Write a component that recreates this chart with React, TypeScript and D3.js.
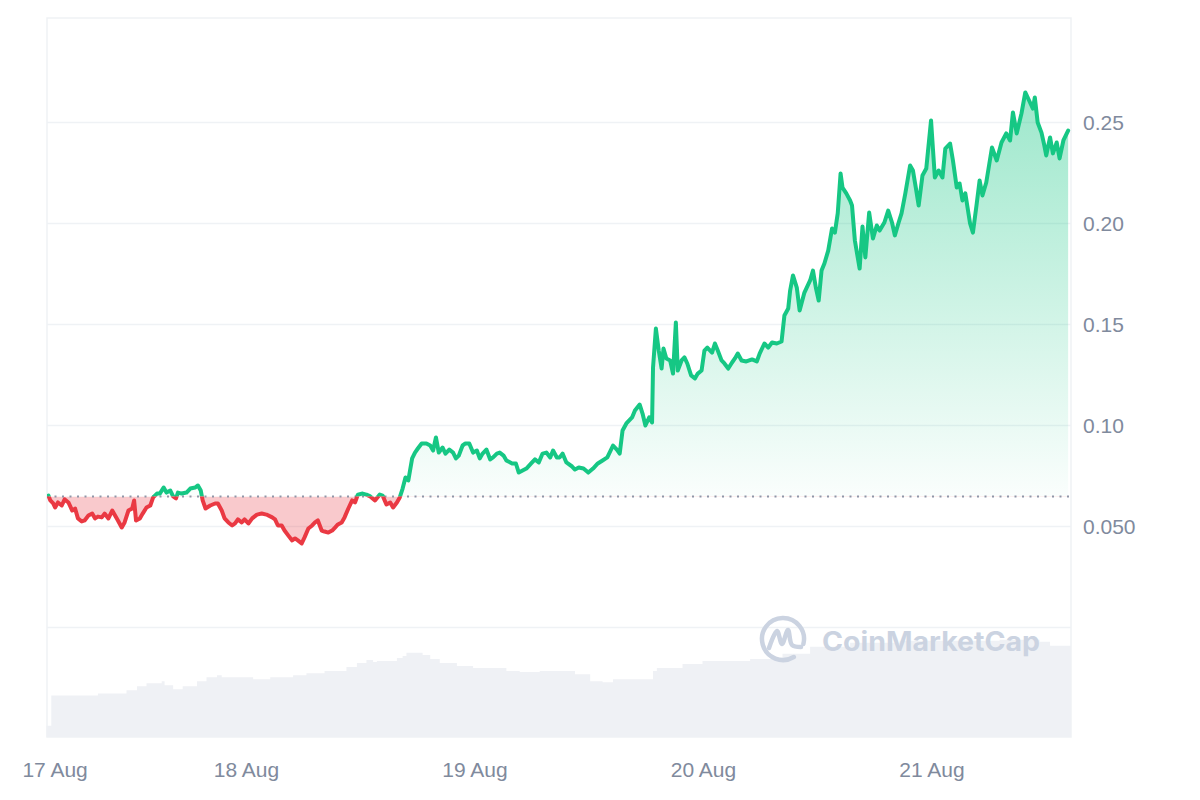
import * as d3 from "d3";
import React, { useEffect, useRef } from "react";

// hours after 17 Aug 00:00 (UTC), price in USD
const pricePoints: [number, number][] = [
  [3.2, 0.0653], [3.4, 0.0629], [3.7, 0.0614], [3.9, 0.0594], [4.2, 0.0619], [4.6, 0.0604], [4.9, 0.0634],
  [5.3, 0.0619], [5.7, 0.0579], [6.0, 0.0589], [6.3, 0.054], [6.7, 0.0525], [7.0, 0.053], [7.4, 0.0554],
  [7.8, 0.0564], [8.1, 0.054], [8.4, 0.0549], [8.8, 0.0545], [9.1, 0.0564], [9.5, 0.054], [9.9, 0.0579],
  [10.2, 0.0554], [10.5, 0.053], [10.9, 0.0495], [11.2, 0.052], [11.6, 0.0579], [12.0, 0.0589], [12.2, 0.0629],
  [12.4, 0.053], [12.8, 0.054], [13.1, 0.0564], [13.5, 0.0594], [13.9, 0.0604], [14.2, 0.0644], [14.6, 0.0663],
  [14.9, 0.0663], [15.3, 0.0693], [15.6, 0.0668], [16.0, 0.0678], [16.3, 0.0649], [16.6, 0.0639], [16.8, 0.0668],
  [17.2, 0.0663], [17.7, 0.0668], [18.1, 0.0688], [18.6, 0.0693], [18.9, 0.0703], [19.2, 0.0678], [19.4, 0.0629],
  [19.7, 0.0589], [20.2, 0.0604], [20.7, 0.0614], [21.0, 0.0614], [21.4, 0.0579], [21.7, 0.054], [22.1, 0.052],
  [22.5, 0.0505], [22.8, 0.0515], [23.1, 0.0535], [23.5, 0.052], [23.8, 0.0535], [24.2, 0.0515], [24.6, 0.054],
  [25.1, 0.0559], [25.6, 0.0564], [26.1, 0.0559], [26.7, 0.0545], [27.0, 0.0535], [27.3, 0.0505], [27.7, 0.0505],
  [28.0, 0.048], [28.4, 0.0455], [28.8, 0.0431], [29.1, 0.0441], [29.4, 0.0431], [29.8, 0.0416], [30.1, 0.0446],
  [30.5, 0.049], [30.9, 0.0505], [31.2, 0.052], [31.5, 0.053], [31.9, 0.048], [32.2, 0.0475], [32.6, 0.047],
  [33.0, 0.048], [33.3, 0.0495], [33.6, 0.051], [34.0, 0.052], [34.3, 0.0545], [34.7, 0.0589], [35.1, 0.0629],
  [35.4, 0.0619], [35.7, 0.0658], [36.2, 0.0663], [36.6, 0.0658], [37.0, 0.0649], [37.5, 0.0629], [38.0, 0.0658],
  [38.3, 0.0653], [38.7, 0.0609], [39.1, 0.0619], [39.4, 0.0594], [39.8, 0.0619], [40.1, 0.0644], [40.4, 0.0688],
  [40.7, 0.0743], [41.0, 0.0728], [41.4, 0.0837], [41.7, 0.0866], [42.0, 0.0886], [42.4, 0.0911], [42.9, 0.0911],
  [43.3, 0.0901], [43.6, 0.0876], [43.9, 0.0941], [44.2, 0.0866], [44.6, 0.0891], [44.9, 0.0861], [45.3, 0.0881],
  [45.7, 0.0866], [46.0, 0.0837], [46.3, 0.0851], [46.7, 0.0901], [47.0, 0.0911], [47.4, 0.0911], [47.8, 0.0866],
  [48.2, 0.0876], [48.5, 0.0837], [48.8, 0.0861], [49.2, 0.0881], [49.6, 0.0832], [49.9, 0.0842], [50.3, 0.0861],
  [50.6, 0.0866], [51.0, 0.0851], [51.3, 0.0827], [51.9, 0.0812], [52.3, 0.0812], [52.6, 0.0767], [53.0, 0.0777],
  [53.4, 0.0787], [53.9, 0.0812], [54.3, 0.0832], [54.7, 0.0817], [55.1, 0.0861], [55.5, 0.0866], [55.9, 0.0842],
  [56.2, 0.0876], [56.6, 0.0842], [56.9, 0.0842], [57.2, 0.0861], [57.6, 0.0817], [58.2, 0.0797], [58.5, 0.0782],
  [58.9, 0.0792], [59.4, 0.0787], [59.9, 0.0767], [60.4, 0.0787], [60.9, 0.0812], [61.4, 0.0827], [61.9, 0.0842],
  [62.5, 0.0901], [62.9, 0.0881], [63.2, 0.0861], [63.5, 0.0975], [63.9, 0.101], [64.5, 0.104], [64.8, 0.1074],
  [65.3, 0.1104], [65.6, 0.1059], [65.9, 0.1], [66.3, 0.104], [66.6, 0.1015], [66.7, 0.1287], [67.0, 0.148],
  [67.3, 0.1371], [67.6, 0.1282], [67.8, 0.1381], [68.1, 0.1332], [68.5, 0.1322], [68.8, 0.1257], [69.1, 0.151],
  [69.3, 0.1272], [69.7, 0.1322], [70.0, 0.1337], [70.3, 0.1307], [70.7, 0.1248], [71.1, 0.1233], [71.4, 0.1257],
  [71.8, 0.1272], [72.1, 0.1371], [72.4, 0.1386], [72.9, 0.1361], [73.2, 0.1406], [73.5, 0.1371], [73.9, 0.1322],
  [74.2, 0.1307], [74.6, 0.1282], [75.0, 0.1312], [75.3, 0.1332], [75.6, 0.1356], [76.0, 0.1322], [76.5, 0.1317],
  [77.1, 0.1327], [77.6, 0.1317], [77.9, 0.1356], [78.4, 0.1406], [78.8, 0.1386], [79.2, 0.1411], [79.7, 0.1406],
  [80.2, 0.1416], [80.5, 0.1545], [80.9, 0.1579], [81.1, 0.1668], [81.4, 0.1743], [81.8, 0.1683], [82.1, 0.1569],
  [82.6, 0.1658], [83.2, 0.1718], [83.5, 0.1767], [83.8, 0.1683], [84.1, 0.1619], [84.4, 0.1767], [84.7, 0.1802],
  [85.1, 0.1866], [85.5, 0.1975], [85.8, 0.1955], [86.1, 0.205], [86.4, 0.2248], [86.6, 0.2178], [87.0, 0.2149],
  [87.4, 0.2114], [87.6, 0.2089], [87.9, 0.1916], [88.2, 0.1832], [88.4, 0.1777], [88.7, 0.1985], [89.0, 0.1832],
  [89.4, 0.2054], [89.8, 0.1926], [90.2, 0.199], [90.5, 0.1965], [91.0, 0.2005], [91.4, 0.2064], [91.8, 0.2005],
  [92.1, 0.1941], [92.5, 0.2005], [92.8, 0.205], [93.2, 0.2149], [93.7, 0.2287], [94.0, 0.2262], [94.3, 0.2178],
  [94.6, 0.2089], [95.0, 0.2238], [95.4, 0.2272], [95.9, 0.251], [96.3, 0.2228], [96.7, 0.2262], [97.1, 0.2228],
  [97.4, 0.2371], [97.9, 0.2396], [98.2, 0.2312], [98.6, 0.2178], [98.9, 0.2198], [99.2, 0.2114], [99.5, 0.2149],
  [100.0, 0.2], [100.3, 0.1955], [100.7, 0.2099], [101.0, 0.2213], [101.3, 0.2139], [101.7, 0.2203], [102.3, 0.2376],
  [102.8, 0.2312], [103.3, 0.2401], [103.8, 0.2446], [104.2, 0.2411], [104.5, 0.255], [104.9, 0.2446], [105.4, 0.2545],
  [105.8, 0.2649], [106.2, 0.2609], [106.6, 0.2569], [106.8, 0.2624], [107.1, 0.25], [107.5, 0.245], [107.8, 0.2386],
  [108.0, 0.2337], [108.4, 0.2426], [108.7, 0.2347], [109.1, 0.2401], [109.4, 0.2322], [109.8, 0.2411], [110.3, 0.246],
];

// hours after 17 Aug 00:00, 24h volume in $M
const volumePoints: [number, number][] = [
  [3.0, 11], [3.5, 41], [6.5, 41], [8.4, 43], [11.4, 46], [12.5, 50], [13.5, 53], [15.1, 55], [15.4, 51],
  [16.3, 47], [17.3, 50], [18.8, 55], [19.8, 59], [20.9, 61], [21.4, 59], [24.7, 57], [26.5, 59], [28.9, 61],
  [30.3, 63], [32.2, 65], [34.5, 69], [35.6, 73], [36.6, 76], [37.3, 74], [37.7, 75], [39.8, 78], [40.4, 80],
  [40.8, 83], [42.5, 81], [43.3, 77], [44.3, 73], [46.1, 70], [47.8, 68], [51.3, 65], [52.7, 64], [54.8, 65],
  [58.5, 62], [60.1, 55], [61.4, 54], [62.5, 57], [66.7, 65], [67.1, 68], [69.8, 72], [71.9, 75], [76.9, 77],
  [80.3, 82], [83.2, 89], [87.4, 93], [92.6, 95], [97.9, 95], [103.1, 96], [107.3, 94], [108.4, 90], [110.6, 90],
];

const openPrice = 0.0649;
const yTicks = [0.05, 0.1, 0.15, 0.2, 0.25];
const yTickLabels = ["0.050", "0.10", "0.15", "0.20", "0.25"];
const xTickHours = [3.9, 24, 48, 72, 96];
const xTickLabels = ["17 Aug", "18 Aug", "19 Aug", "20 Aug", "21 Aug"];
const rangeHours = [3.05, 110.6];

const GREEN = "#16c784";
const RED = "#ea3943";
const GRID = "#eff2f5";
const LABEL = "#808a9d";

const base = Date.UTC(2023, 7, 17);
const toDate = (h: number) => new Date(base + h * 3600 * 1000);

function drawChart(svgRef: React.RefObject<SVGSVGElement | null>) {
  const width = 1200;
  const height = 800;
  const margin = { top: 18, right: 129, bottom: 63, left: 47 };

  const svg = d3.select(svgRef.current)
    .attr("width", width)
    .attr("height", height)
    .attr("viewBox", `0 0 ${width} ${height}`);
  svg.selectAll("*").remove();

  const x = d3.scaleUtc()
    .domain([toDate(rangeHours[0]), toDate(rangeHours[1])])
    .range([margin.left, width - margin.right]);

  const y = d3.scaleLinear()
    .domain([0, 0.25])
    .range([627.5, 122.5]);

  const vol = d3.scaleLinear()
    .domain([0, 108])
    .range([height - margin.bottom, y(0)]);

  const baseY = y(openPrice);
  const defs = svg.append("defs");

  const grad = defs.append("linearGradient")
    .attr("id", "upFill")
    .attr("gradientUnits", "userSpaceOnUse")
    .attr("x1", 0).attr("x2", 0)
    .attr("y1", y(d3.max(pricePoints, d => d[1]) as number))
    .attr("y2", baseY);
  grad.append("stop").attr("offset", "0%").attr("stop-color", GREEN).attr("stop-opacity", 0.42);
  grad.append("stop").attr("offset", "100%").attr("stop-color", GREEN).attr("stop-opacity", 0.02);

  defs.append("clipPath").attr("id", "aboveClip")
    .append("rect")
    .attr("x", margin.left).attr("y", 0)
    .attr("width", width - margin.left - margin.right).attr("height", baseY);
  defs.append("clipPath").attr("id", "belowClip")
    .append("rect")
    .attr("x", margin.left).attr("y", baseY)
    .attr("width", width - margin.left - margin.right).attr("height", height - baseY);

  // frame
  svg.append("rect")
    .attr("x", margin.left).attr("y", margin.top)
    .attr("width", width - margin.left - margin.right)
    .attr("height", height - margin.bottom - margin.top)
    .attr("fill", "none")
    .attr("stroke", GRID)
    .attr("stroke-width", 1.5);

  // grid lines
  svg.append("g")
    .selectAll("line")
    .data([0, ...yTicks])
    .enter().append("line")
    .attr("x1", margin.left).attr("x2", width - margin.right)
    .attr("y1", d => y(d)).attr("y2", d => y(d))
    .attr("stroke", GRID)
    .attr("stroke-width", 1.5);

  // volume
  const volArea = d3.area<[number, number]>()
    .curve(d3.curveStepAfter)
    .x(d => x(toDate(d[0])))
    .y0(vol(0))
    .y1(d => vol(d[1]));
  svg.append("path")
    .datum(volumePoints)
    .attr("d", volArea)
    .attr("fill", "#eff1f5");

  // watermark
  const wm = svg.append("g").attr("fill", "none").attr("stroke", "#cbd3e1").attr("stroke-width", 4.5)
    .attr("stroke-linecap", "round").attr("stroke-linejoin", "round");
  const cx = 783, cy = 639, r = 21;
  const arc = d3.arc()({ innerRadius: r, outerRadius: r, startAngle: 2.6, endAngle: 2.6 + Math.PI * 1.75 } as any);
  wm.append("path").attr("d", arc).attr("transform", `translate(${cx},${cy})`);
  wm.append("path")
    .attr("d", d3.line().curve(d3.curveCatmullRom)([[cx - 14, cy + 9], [cx - 6, cy - 8], [cx - 1, cy + 5], [cx + 5, cy - 9], [cx + 9, cy + 6], [cx + 18, cy + 8]]));
  svg.append("text")
    .attr("x", 822).attr("y", 651)
    .attr("font-family", "Inter, 'Liberation Sans', Arial, sans-serif")
    .attr("font-weight", 700)
    .attr("font-size", 27)
    .attr("textLength", 218)
    .attr("lengthAdjust", "spacingAndGlyphs")
    .attr("fill", "#cbd3e1")
    .text("CoinMarketCap");

  // price areas
  const area = d3.area<[number, number]>()
    .x(d => x(toDate(d[0])))
    .y0(baseY)
    .y1(d => y(d[1]));
  svg.append("path").datum(pricePoints)
    .attr("d", area)
    .attr("fill", "url(#upFill)")
    .attr("clip-path", "url(#aboveClip)");
  svg.append("path").datum(pricePoints)
    .attr("d", area)
    .attr("fill", RED)
    .attr("fill-opacity", 0.27)
    .attr("clip-path", "url(#belowClip)");

  // open price dotted line
  svg.append("line")
    .attr("x1", margin.left).attr("x2", width - margin.right)
    .attr("y1", baseY).attr("y2", baseY)
    .attr("stroke", "#8f96a8")
    .attr("stroke-width", 2)
    .attr("stroke-dasharray", "2,5.5");

  // price lines
  const line = d3.line<[number, number]>()
    .x(d => x(toDate(d[0])))
    .y(d => y(d[1]));
  svg.append("path").datum(pricePoints)
    .attr("d", line)
    .attr("fill", "none")
    .attr("stroke", GREEN)
    .attr("stroke-width", 4)
    .attr("stroke-linejoin", "round")
    .attr("stroke-linecap", "round")
    .attr("clip-path", "url(#aboveClip)");
  svg.append("path").datum(pricePoints)
    .attr("d", line)
    .attr("fill", "none")
    .attr("stroke", RED)
    .attr("stroke-width", 4)
    .attr("stroke-linejoin", "round")
    .attr("stroke-linecap", "round")
    .attr("clip-path", "url(#belowClip)");

  // y labels
  svg.append("g")
    .selectAll("text")
    .data(yTicks)
    .enter().append("text")
    .attr("x", 1083)
    .attr("y", d => y(d) + 7.5)
    .attr("font-family", "'Liberation Sans', Arial, sans-serif")
    .attr("font-size", 21)
    .attr("fill", LABEL)
    .text((d, i) => yTickLabels[i]);

  // x labels
  svg.append("g")
    .selectAll("text")
    .data(xTickHours)
    .enter().append("text")
    .attr("x", d => x(toDate(d)))
    .attr("y", 777)
    .attr("text-anchor", "middle")
    .attr("font-family", "'Liberation Sans', Arial, sans-serif")
    .attr("font-size", 21)
    .attr("fill", LABEL)
    .text((d, i) => xTickLabels[i]);
}

export default function App() {
  const svg = useRef<SVGSVGElement>(null);
  useEffect(() => {
    document.body.style.margin = "0";
    drawChart(svg);
  });

  return (
    <div style={{ width: 1200, height: 800, background: "#fff" }}>
      <svg ref={svg} style={{ display: "block" }}></svg>
    </div>
  );
}
